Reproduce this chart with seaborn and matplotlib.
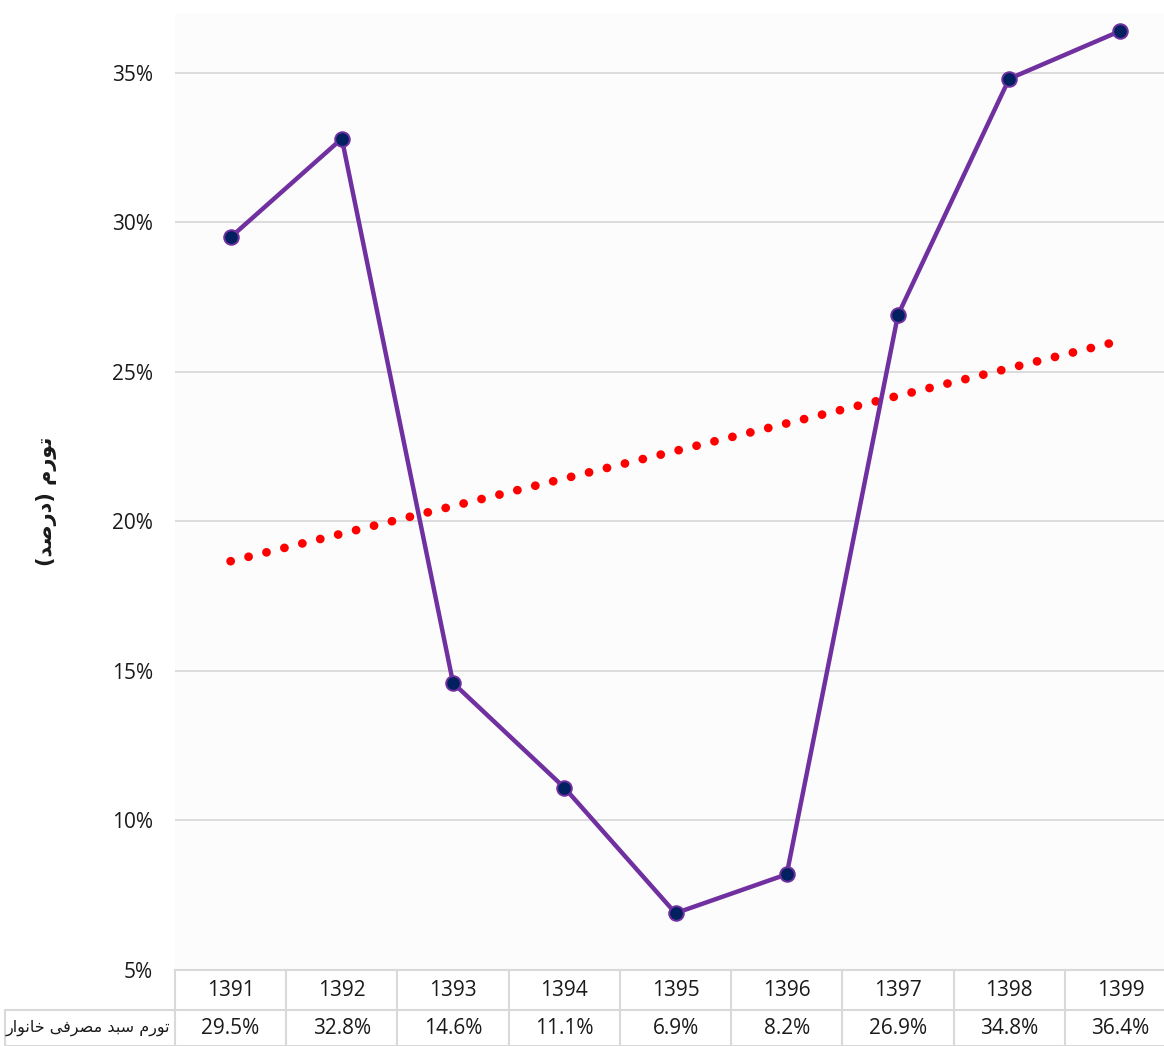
"""
Household consumption basket inflation 1391-1399 with linear trend and data table.
Writes: out.png
"""

import matplotlib.pyplot as plt
import numpy as np
import seaborn as sns

years = ["1391", "1392", "1393", "1394", "1395", "1396", "1397", "1398", "1399"]
inflation = [29.5, 32.8, 14.6, 11.1, 6.9, 8.2, 26.9, 34.8, 36.4]
y_ticks = [5, 10, 15, 20, 25, 30, 35]

# Persian labels, written in presentation forms and visual order so that
# matplotlib (no bidi shaping) shows them joined and right-to-left.
series_label = ("\uFE97\uFEEE\uFEAD\uFEE1 \uFEB3\uFE92\uFEAA "
                "\uFEE3\uFEBC\uFEAE\uFED3\uFBFD \uFEA7\uFE8E\uFEE7\uFEEE\uFE8D\uFEAD")[::-1]
axis_label = ("\uFE97\uFEEE\uFEAD\uFEE1 (\uFEA9\uFEAD\uFEBB\uFEAA)")[::-1].translate(
    str.maketrans("()", ")("))

PURPLE = "#7030A0"
NAVY = "#002060"
GRID = "#D9D9D9"
TEXT = "#1A1A1A"

sns.set_theme(style="whitegrid")
plt.rcParams["font.family"] = ["Open Sans", "DejaVu Sans"]


def main() -> None:
    pos = np.arange(len(years))

    # the plot area runs past the right edge of the picture (last cell is cut)
    fig = plt.figure(figsize=(11.64, 10.46), dpi=100)
    ax = fig.add_axes([175 / 1164, 76 / 1046, 1001 / 1164, 957 / 1046])
    ax.set_facecolor("#FCFCFC")

    # linear trend (same as Excel's trendline)
    sns.regplot(x=pos, y=inflation, scatter=False, ci=None, truncate=True, ax=ax,
                line_kws=dict(color="#FF0000", lw=6.3, linestyle=(0, (0.01, 2.1)),
                              dash_capstyle="round", zorder=3))

    sns.lineplot(x=pos, y=inflation, ax=ax, color=PURPLE, lw=3.2, marker="o",
                 markersize=10.5, markerfacecolor=NAVY, markeredgecolor=PURPLE,
                 markeredgewidth=1.4, zorder=4)

    ax.set_xlim(-0.5, len(years) - 0.5)
    ax.set_ylim(5, 37)
    ax.set_yticks(y_ticks)
    ax.set_yticklabels([f"{t}%" for t in y_ticks], fontsize=15, color=TEXT)
    ax.set_xticks([])
    ax.tick_params(axis="y", length=0, pad=16)
    ax.grid(axis="y", color=GRID, lw=1.3)
    ax.grid(axis="x", visible=False)
    for s in ax.spines.values():
        s.set_visible(False)

    ax.set_ylabel(axis_label, fontsize=15, fontweight="bold", family="DejaVu Sans",
                  color=TEXT)
    ax.yaxis.set_label_coords(-0.118, 0.49)

    # data table under the plot
    tr = ax.get_xaxis_transform()
    cell = 1001 / 9
    row1 = -40 / 957
    row2 = -76 / 957
    label_left = (5 - 175) / cell - 0.5
    lkw = dict(color=GRID, lw=1.5, transform=tr, clip_on=False)
    ax.plot([-0.5, 8.5], [0, 0], **lkw)
    ax.plot([label_left, 8.5], [row1, row1], **lkw)
    ax.plot([label_left, 8.5], [row2, row2], **lkw)
    ax.plot([label_left, label_left], [row1, row2], **lkw)
    for b in np.arange(-0.5, len(years)):
        ax.plot([b, b], [0, row2], **lkw)

    for i, (yr, v) in enumerate(zip(years, inflation)):
        ax.text(i, row1 / 2, yr, transform=tr, ha="center", va="center",
                fontsize=15, color=TEXT)
        ax.text(i, (row1 + row2) / 2, f"{v:.1f}%", transform=tr, ha="center",
                va="center", fontsize=15, color=TEXT)
    ax.text(-0.54, (row1 + row2) / 2, series_label, transform=tr, ha="right",
            va="center", fontsize=11.5, color=TEXT, family="DejaVu Sans")

    fig.savefig("out.png", dpi=100, facecolor="white")


if __name__ == "__main__":
    main()
